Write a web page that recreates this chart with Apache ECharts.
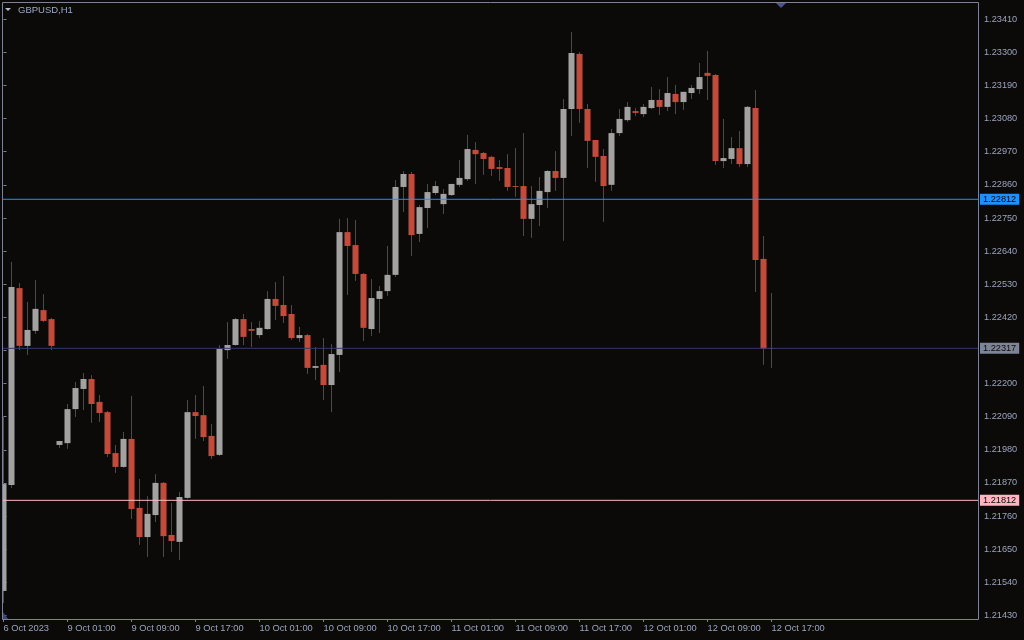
<!DOCTYPE html>
<html>
<head>
<meta charset="utf-8">
<script src="https://cdn.jsdelivr.net/npm/echarts@6/dist/echarts.min.js"></script>
<style>
html,body{margin:0;padding:0;background:#0c0a09;}
#chart{width:1024px;height:640px;}
</style>
</head>
<body>
<div id="chart"></div>
<script>
const symbolTitle = 'GBPUSD,H1';
const tickBars = [0, 8, 16, 24, 32, 40, 48, 56, 64, 72, 80, 88, 96];
const tickLabels = ['6 Oct 2023','9 Oct 01:00','9 Oct 09:00','9 Oct 17:00','10 Oct 01:00','10 Oct 09:00','10 Oct 17:00','11 Oct 01:00','11 Oct 09:00','11 Oct 17:00','12 Oct 01:00','12 Oct 09:00','12 Oct 17:00'];
const priceTicks = [1.21430,1.21540,1.21650,1.21760,1.21870,1.21980,1.22090,1.22200,1.22310,1.22420,1.22530,1.22640,1.22750,1.22860,1.22970,1.23080,1.23190,1.23300,1.23410];

const open = [
1.21511,1.21863,1.22517,1.22325,1.22375,1.22444,1.22414,1.21996,1.22002,1.22115,
1.22182,1.22215,1.22139,1.22105,1.21969,1.21923,1.22016,1.21787,1.21690,1.21763,
1.21870,1.21697,1.21674,1.21820,1.22105,1.22095,1.22026,1.21963,1.22311,1.22328,
1.22414,1.22381,1.22361,1.22381,1.22481,1.22461,1.22431,1.22351,1.22361,1.22252,
1.22262,1.22195,1.22295,1.22703,1.22660,1.22564,1.22381,1.22481,1.22507,1.22561,
1.22853,1.22896,1.22697,1.22783,1.22833,1.22796,1.22826,1.22860,1.22879,1.22976,
1.22966,1.22953,1.22919,1.22916,1.22856,1.22856,1.22747,1.22793,1.22836,1.22906,
1.22883,1.23112,1.23295,1.23112,1.23009,1.22956,1.22860,1.23032,1.23075,1.23105,
1.23095,1.23115,1.23142,1.23119,1.23162,1.23135,1.23165,1.23178,1.23232,1.23225,
1.22939,1.22946,1.22982,1.22929,1.23115,1.22614,1.22316
];
const high = [
1.22089,1.22604,1.22534,1.22471,1.22544,1.22497,1.22418,1.22009,1.22132,1.22205,
1.22235,1.22228,1.22162,1.22109,1.21996,1.22039,1.22159,1.21883,1.21826,1.21899,
1.21873,1.21803,1.21840,1.22145,1.22162,1.22192,1.22066,1.22328,1.22404,1.22418,
1.22431,1.22404,1.22408,1.22507,1.22537,1.22557,1.22461,1.22388,1.22365,1.22321,
1.22351,1.22331,1.22747,1.22750,1.22743,1.22567,1.22547,1.22524,1.22657,1.22876,
1.22906,1.22903,1.22793,1.22863,1.22873,1.22846,1.22863,1.22943,1.23026,1.23002,
1.22969,1.22956,1.22943,1.22962,1.22982,1.23032,1.22856,1.22886,1.22909,1.22972,
1.23145,1.23368,1.23301,1.23129,1.23009,1.22979,1.23046,1.23112,1.23135,1.23115,
1.23129,1.23185,1.23178,1.23218,1.23192,1.23169,1.23192,1.23265,1.23305,1.23228,
1.23079,1.23019,1.23039,1.23122,1.23175,1.22690,1.22501
];
const low = [
1.21471,1.21853,1.22311,1.22295,1.22365,1.22404,1.22311,1.21986,1.21983,1.22089,
1.22112,1.22069,1.22072,1.21956,1.21903,1.21920,1.21750,1.21664,1.21624,1.21740,
1.21624,1.21640,1.21614,1.21817,1.22016,1.22009,1.21949,1.21959,1.22282,1.22325,
1.22328,1.22321,1.22351,1.22378,1.22411,1.22401,1.22345,1.22338,1.22232,1.22212,
1.22145,1.22105,1.22238,1.22494,1.22541,1.22341,1.22358,1.22368,1.22491,1.22554,
1.22770,1.22624,1.22670,1.22717,1.22826,1.22763,1.22823,1.22853,1.22873,1.22863,
1.22893,1.22889,1.22873,1.22840,1.22820,1.22690,1.22684,1.22723,1.22783,1.22840,
1.22674,1.23022,1.23066,1.22916,1.22870,1.22737,1.22840,1.23022,1.23069,1.23089,
1.23085,1.23112,1.23092,1.23105,1.23095,1.23109,1.23145,1.23162,1.23142,1.22926,
1.22916,1.22929,1.22919,1.22919,1.22504,1.22262,1.22252
];
const close = [
1.21866,1.22521,1.22325,1.22378,1.22448,1.22408,1.22325,1.22009,1.22115,1.22185,
1.22215,1.22132,1.22102,1.21966,1.21923,1.22016,1.21783,1.21690,1.21767,1.21870,
1.21693,1.21677,1.21823,1.22105,1.22092,1.22022,1.21959,1.22315,1.22328,1.22414,
1.22355,1.22375,1.22385,1.22481,1.22458,1.22424,1.22351,1.22361,1.22252,1.22258,
1.22195,1.22298,1.22703,1.22657,1.22564,1.22385,1.22484,1.22507,1.22561,1.22853,
1.22896,1.22693,1.22786,1.22836,1.22856,1.22830,1.22863,1.22883,1.22979,1.22962,
1.22946,1.22913,1.22913,1.22853,1.22853,1.22747,1.22796,1.22840,1.22906,1.22883,
1.23112,1.23298,1.23112,1.23006,1.22953,1.22856,1.23032,1.23079,1.23119,1.23099,
1.23119,1.23142,1.23119,1.23165,1.23135,1.23169,1.23182,1.23218,1.23222,1.22939,
1.22949,1.22982,1.22929,1.23119,1.22610,1.22315,1.22317
];
const levelValues = [1.22812, 1.22317, 1.21812];
const levelLineColors = ['#1e90ff', '#343a6c', '#ffb6c1'];
const levelTagColors = ['#1e90ff', '#7d8496', '#ffb6c1'];

const BG = '#0c0a09';
const AXIS = '#7d8397';
const TXT = '#9aa4bc';
const FONT = '"Liberation Sans", Arial, sans-serif';

const wickData = open.map((o, i) => [i, o, close[i], low[i], high[i]]);
const bodyData = open.map((o, i) => [i, o, close[i], Math.min(o, close[i]), Math.max(o, close[i])]);

const chart = echarts.init(document.getElementById('chart'), null, {renderer: 'canvas'});
const gridLeft = 3, gridRight = 46, gridTop = 3, gridBottom = 21;
const plotW = 1024 - gridLeft - gridRight;
const barStep = 8;
const xMin = -0.0625;
const xMax = xMin + plotW / barStep;

const levelSeries = levelValues.map((v, i) => ({
  type: 'line', silent: true, symbol: 'none', z: 5,
  data: [[xMin, v], [xMax, v]],
  lineStyle: {color: levelLineColors[i], width: 1},
  endLabel: {
    show: true, distance: 2, formatter: v.toFixed(5),
    backgroundColor: levelTagColors[i], color: '#0c0a09', fontFamily: FONT, fontSize: 9.2,
    padding: [1, 3, 1, 3]
  }
}));

chart.setOption({
  backgroundColor: BG,
  animation: false,
  grid: {left: gridLeft, right: gridRight, top: gridTop, bottom: gridBottom, show: false},
  xAxis: {
    type: 'value', min: xMin, max: xMax,
    splitLine: {show: false},
    axisLine: {show: false},
    axisTick: {show: true, length: 3, customValues: tickBars, lineStyle: {color: AXIS}},
    axisLabel: {
      customValues: tickBars, color: TXT, fontFamily: FONT, fontSize: 9.3, align: 'left', margin: 5,
      formatter: v => tickLabels[tickBars.indexOf(Math.round(v))] || ''
    }
  },
  yAxis: {
    type: 'value', position: 'right', min: 1.214178, max: 1.234641, scale: true,
    splitLine: {show: false},
    axisLine: {show: false},
    axisTick: {show: true, length: 3, customValues: priceTicks, lineStyle: {color: AXIS}},
    axisLabel: {
      customValues: priceTicks, color: TXT, fontFamily: FONT, fontSize: 9.2, margin: 6,
      formatter: v => v.toFixed(5)
    }
  },
  series: [
    {
      type: 'candlestick', name: 'wicks', data: wickData, barWidth: 1,
      encode: {x: 0, y: [1, 2, 3, 4]},
      itemStyle: {color: '#4b4b4b', color0: '#4b4b4b', borderColor: '#4b4b4b', borderColor0: '#4b4b4b', borderWidth: 1},
      silent: true
    },
    {
      type: 'candlestick', name: 'GBPUSD', data: bodyData, barWidth: 7,
      encode: {x: 0, y: [1, 2, 3, 4]},
      itemStyle: {color: '#a2a2a2', color0: '#c44a3b', borderColor: '#a2a2a2', borderColor0: '#c44a3b', borderWidth: 0}
    }
  ].concat(levelSeries),
  graphic: [
    {type: 'rect', shape: {x: 0, y: 0, width: 2, height: 640}, style: {fill: BG}, z: 99, silent: true},
    {type: 'rect', shape: {x: 2.5, y: 2.5, width: 976, height: 617}, style: {fill: 'none', stroke: AXIS, lineWidth: 1}, z: 100, silent: true},
    {type: 'polygon', shape: {points: [[5, 8], [11, 8], [8, 11]]}, style: {fill: '#b8bcc8'}, z: 101},
    {type: 'text', x: 18, y: 5, style: {text: symbolTitle, fill: '#9aa8c8', font: '9.5px ' + FONT}, z: 101},
    {type: 'polygon', shape: {points: [[776, 3], [786, 3], [781, 8]]}, style: {fill: '#4a5488'}, z: 101},
    {type: 'polygon', shape: {points: [[3, 612], [3, 619], [8, 619]]}, style: {fill: '#3c4678'}, z: 101}
  ]
});
</script>
</body>
</html>
